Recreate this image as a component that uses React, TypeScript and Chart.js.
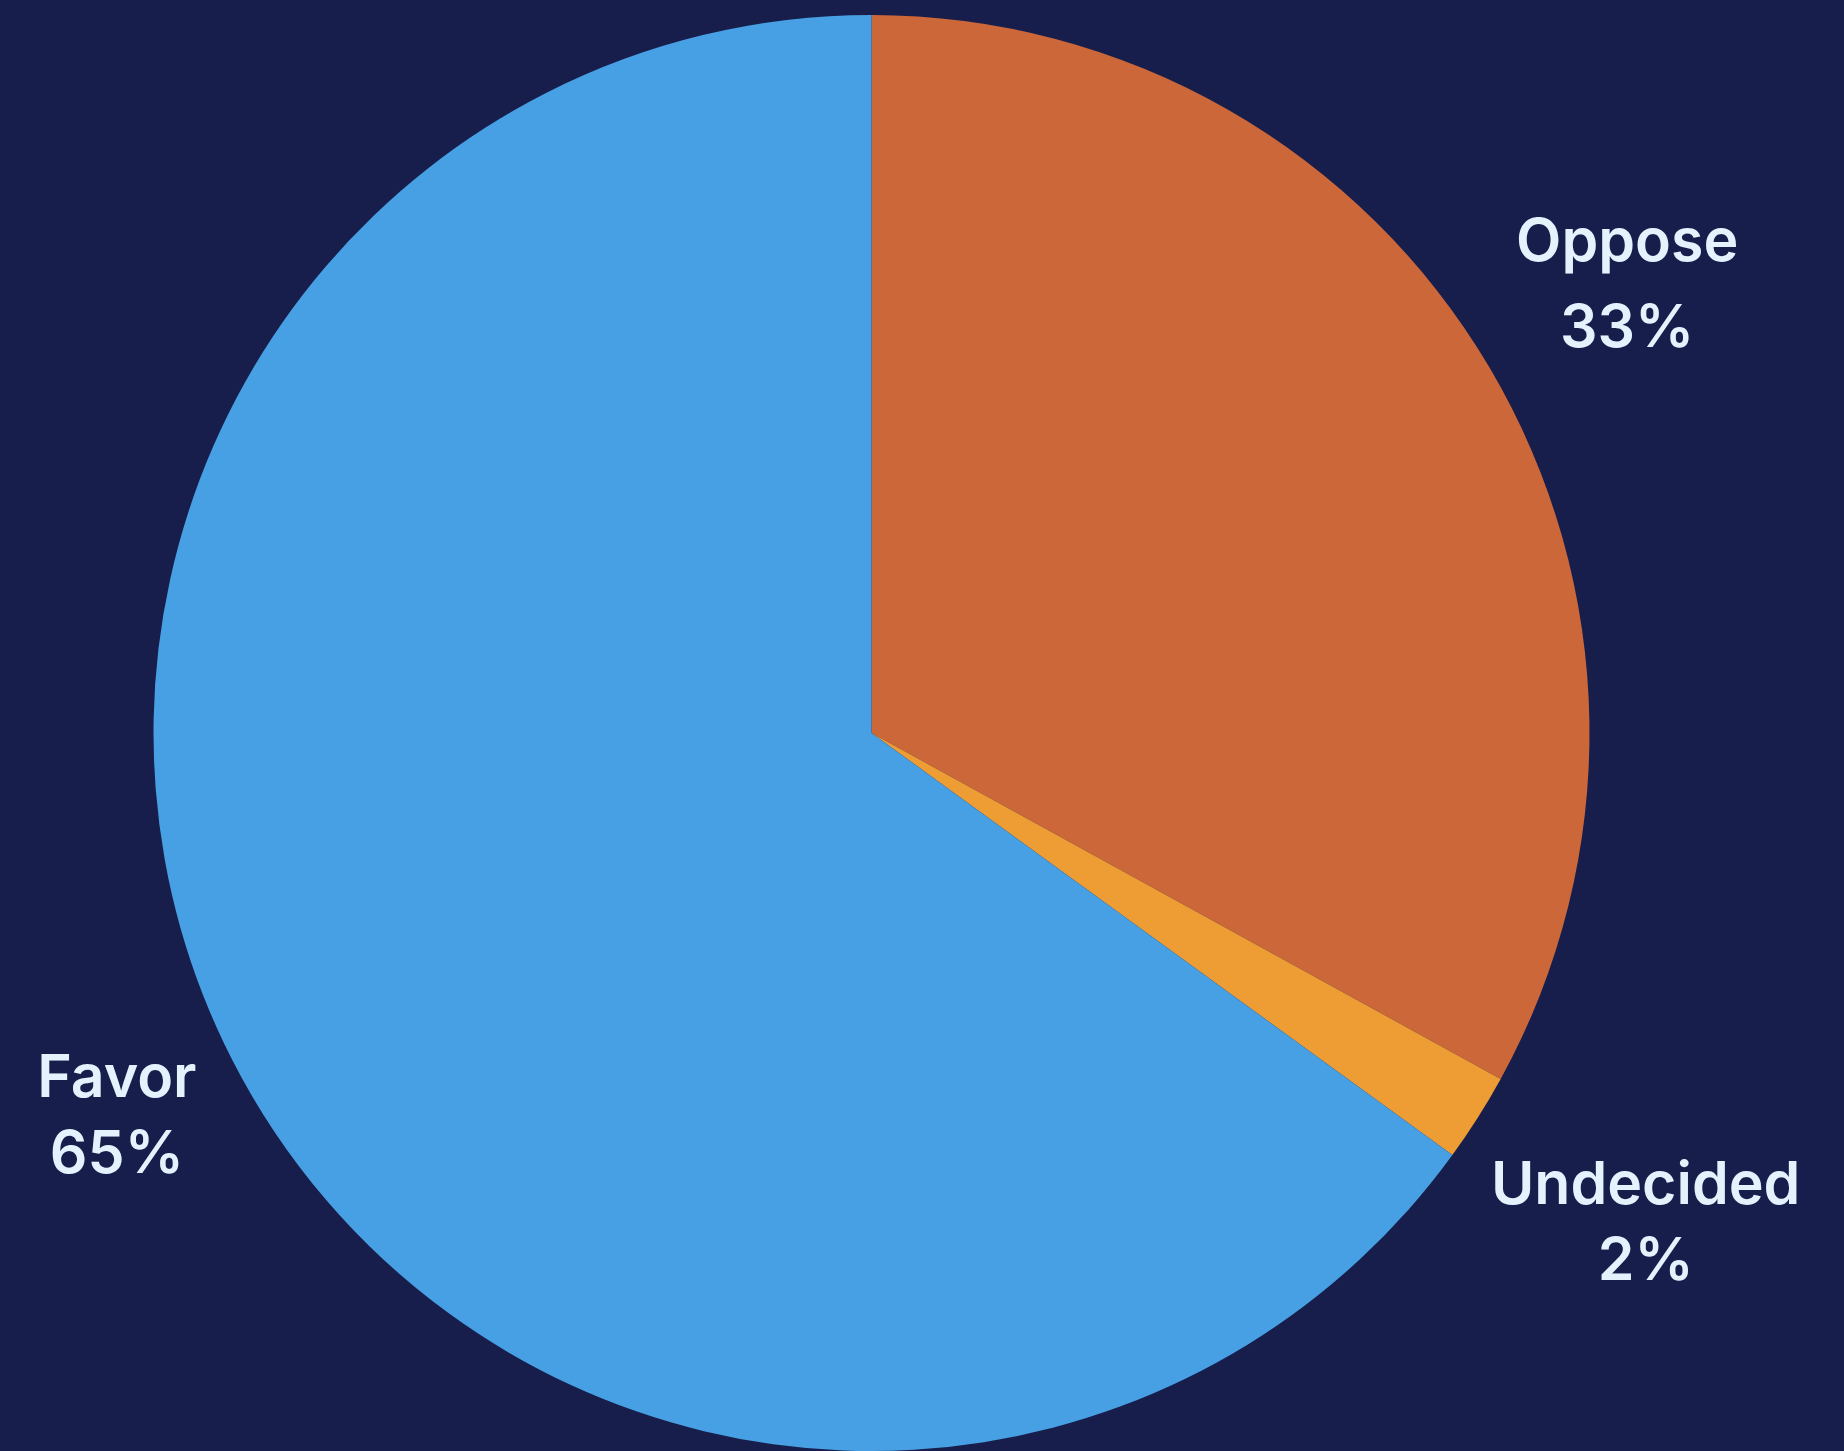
import React, { useEffect, useRef } from "react";
import { Chart, registerables } from "chart.js";

Chart.register(...registerables);

const categories = ["Oppose", "Undecided", "Favor"];
const values = [33, 2, 65];
const valueLabels = ["33%", "2%", "65%"];
const colors = ["#cc673a", "#ee9d35", "#47a0e3"];

const W = 1844;
const H = 1451;

const labelPlugin = {
  id: "outerLabels",
  afterDatasetsDraw(chart: any, _args: any, opts: any) {
    const ctx = chart.ctx;
    const meta = chart.getDatasetMeta(0);
    const factors: number[] = opts.distance || [];
    const lhs: number[] = opts.lineHeights || [];
    ctx.save();
    ctx.fillStyle = opts.color;
    ctx.font = opts.font;
    ctx.textAlign = "center";
    ctx.textBaseline = "middle";
    meta.data.forEach((arc: any, i: number) => {
      const { x, y, startAngle, endAngle, outerRadius } = arc.getProps(
        ["x", "y", "startAngle", "endAngle", "outerRadius"],
        true
      );
      const mid = (startAngle + endAngle) / 2;
      const d = outerRadius * (factors[i] ?? 1.2);
      const cx = x + Math.cos(mid) * d;
      const cy = y + Math.sin(mid) * d;
      const lh = lhs[i] ?? 78;
      ctx.fillText(chart.data.labels[i], cx, cy - lh / 2);
      ctx.fillText(valueLabels[i], cx, cy + lh / 2);
    });
    ctx.restore();
  },
};

export default function App() {
  const ref = useRef<HTMLCanvasElement>(null);
  useEffect(() => {
    document.body.style.margin = "0";
    document.body.style.background = "#181e4b";
    const canvas = ref.current!;
    const chart = new Chart(canvas, {
      type: "pie",
      data: {
        labels: categories,
        datasets: [
          {
            data: values,
            backgroundColor: colors,
            borderWidth: 0,
          },
        ],
      },
      options: {
        responsive: false,
        animation: false,
        layout: { padding: { top: 15, bottom: 0, left: 0, right: 101 } },
        plugins: {
          legend: { display: false },
          tooltip: { enabled: false },
          outerLabels: {
            distance: [1.2228, 1.277, 1.1796],
            lineHeights: [86, 76, 76],
            color: "#e3f2fd",
            font: "600 59px Inter",
          },
        } as any,
      },
      plugins: [labelPlugin],
    });
    return () => chart.destroy();
  }, []);
  return (
    <div style={{ width: W, height: H, background: "#181e4b", overflow: "hidden" }}>
      <canvas ref={ref} width={W} height={H} style={{ display: "block" }} />
    </div>
  );
}
